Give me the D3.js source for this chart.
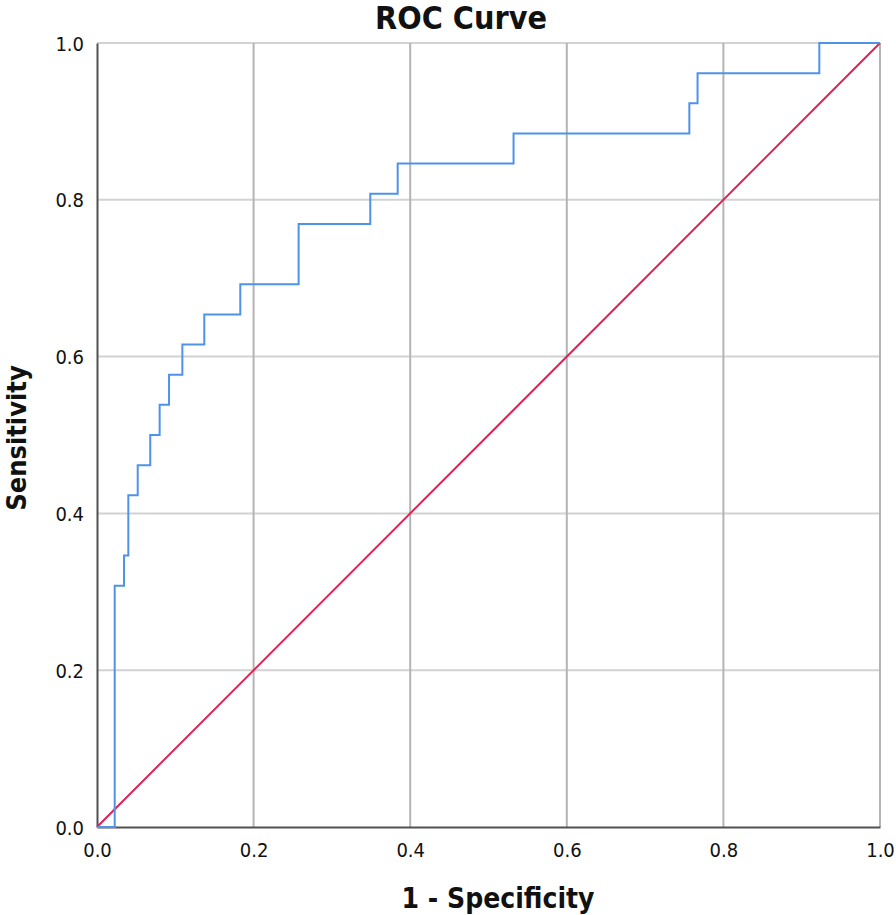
<!DOCTYPE html>
<html><head><meta charset="utf-8">
<script src="https://cdn.jsdelivr.net/npm/d3@7"></script>
<style>body{margin:0;background:#fff}svg{display:block}</style>
</head><body>
<svg id="c" width="896" height="915"></svg>
<script>
// ROC curve step points (1 - specificity, sensitivity)
const fpr = [0, 0.0226, 0.0226, 0.0345, 0.0345, 0.040, 0.040, 0.052, 0.052, 0.068, 0.068, 0.080, 0.080, 0.092, 0.092, 0.109, 0.109, 0.137, 0.137, 0.183, 0.183, 0.2575, 0.2575, 0.349, 0.349, 0.384, 0.384, 0.532, 0.532, 0.7565, 0.7565, 0.767, 0.767, 0.9225, 0.9225, 1.0];
const tpr = [0, 0, 0.3077, 0.3077, 0.3462, 0.3462, 0.4231, 0.4231, 0.4615, 0.4615, 0.5, 0.5, 0.5385, 0.5385, 0.5769, 0.5769, 0.6154, 0.6154, 0.6538, 0.6538, 0.6923, 0.6923, 0.7692, 0.7692, 0.8077, 0.8077, 0.8462, 0.8462, 0.8846, 0.8846, 0.9231, 0.9231, 0.9615, 0.9615, 1.0, 1.0];
const refX = [0, 1];
const refY = [0, 1];
const ticks = [0, 0.2, 0.4, 0.6, 0.8, 1.0];
const tickLabels = ["0.0", "0.2", "0.4", "0.6", "0.8", "1.0"];

const svg = d3.select("#c");
const L = 97, R = 880, T = 43, B = 827;
const x = d3.scaleLinear().domain([0, 1]).range([L, R]);
const y = d3.scaleLinear().domain([0, 1]).range([B, T]);
const font = "'Liberation Sans Narrow','DejaVu Sans Condensed','Liberation Sans',sans-serif";

// gridlines
svg.append("g").selectAll("line").data(ticks.slice(1)).join("line")
  .attr("x1", L).attr("x2", R).attr("y1", d => y(d)).attr("y2", d => y(d))
  .attr("stroke", "#d2d2d2").attr("stroke-width", 2);
svg.append("g").selectAll("line").data(ticks.slice(1)).join("line")
  .attr("x1", d => x(d)).attr("x2", d => x(d)).attr("y1", T).attr("y2", B)
  .attr("stroke", "#b4b4b4").attr("stroke-width", 2);

// axes
const xAxis = d3.axisBottom(x).tickValues(ticks).tickFormat((d, i) => tickLabels[i]).tickSize(0).tickPadding(16);
const yAxis = d3.axisLeft(y).tickValues(ticks).tickFormat((d, i) => tickLabels[i]).tickSize(0).tickPadding(13);
const gx = svg.append("g").attr("transform", `translate(0,${B})`).call(xAxis);
const gy = svg.append("g").attr("transform", `translate(${L},0)`).call(yAxis);
[gx, gy].forEach(g => {
  g.select(".domain").attr("stroke", "#505050").attr("stroke-width", 2);
  g.selectAll("text").attr("font-family", font).attr("font-size", 20).attr("fill", "#111");
});
gy.selectAll("text").attr("dy", "0.35em");

// reference line
const line = d3.line().x(d => x(d[0])).y(d => y(d[1]));
svg.append("path").datum(refX.map((v, i) => [v, refY[i]]))
  .attr("d", line).attr("fill", "none").attr("stroke", "#dd2255").attr("stroke-width", 2);

// ROC curve
svg.append("path").datum(fpr.map((v, i) => [v, tpr[i]]))
  .attr("d", line).attr("fill", "none").attr("stroke", "#4f93e8").attr("stroke-width", 2);

// titles
svg.append("text").attr("x", 461).attr("y", 29).attr("text-anchor", "middle")
  .attr("font-family", font).attr("font-weight", "bold").attr("font-size", 32).attr("fill", "#111").text("ROC Curve");
svg.append("text").attr("x", 498).attr("y", 908).attr("text-anchor", "middle")
  .attr("font-family", font).attr("font-weight", "bold").attr("font-size", 28).attr("fill", "#111").text("1 - Specificity");
svg.append("text").attr("transform", "translate(26,438) rotate(-90)").attr("text-anchor", "middle")
  .attr("font-family", font).attr("font-weight", "bold").attr("font-size", 27).attr("fill", "#111").text("Sensitivity");
</script>
</body></html>
